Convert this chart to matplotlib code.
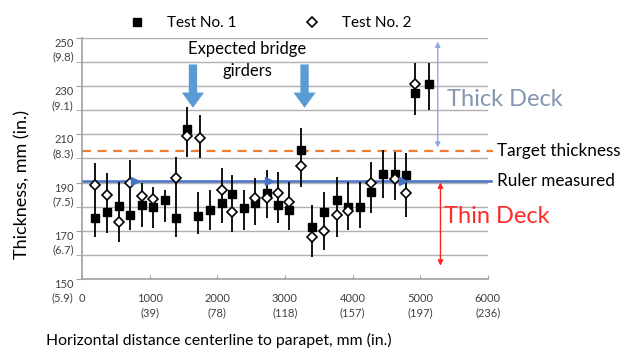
import numpy as np
import matplotlib
matplotlib.use('Agg')
import matplotlib.pyplot as plt
from matplotlib.transforms import ScaledTranslation

plt.rcParams['font.family'] = ['Lato', 'DejaVu Sans']

# measurement locations, mm from centerline
dist = [190, 370, 550, 710, 885, 1050, 1225, 1390, 1550, 1715, 1740,
        1890, 2070, 2215, 2390, 2555, 2730, 2900, 3060, 3240, 3400,
        3580, 3765, 3930, 4105, 4270, 4445, 4625, 4785, 4930, 5125]
test1 = [175.3, 177.8, 180.4, 176.5, 180.7, 179.8, 182.8, 175.3, 212.2, 176.0, np.nan,
         178.4, 181.7, 185.2, 179.5, 181.5, 185.7, 180.7, 178.6, 203.5, 171.6,
         177.8, 182.8, 179.9, 179.9, 186.1, 193.6, 193.6, 193.2, 227.2, 230.9]
test2 = [189.0, 184.9, 173.8, 190.0, 184.4, 183.2, np.nan, 191.9, 209.3, np.nan, 208.5,
         np.nan, 186.9, 177.8, np.nan, 183.6, 183.6, 185.7, 182.0, 196.9, 167.4,
         170.0, 176.5, 178.2, np.nan, 189.8, np.nan, 191.5, 185.7, 230.9, np.nan]
# whisker ends
whisk_lo = [167.4, 169.0, 165.4, 170.3, 171.6, 171.2, 173.7, 167.4, 200.6, 168.5, 200.2,
            170.3, 173.2, 169.5, 170.3, 172.4, 175.3, 173.2, 170.3, 188.2, 159.1,
            162.0, 167.4, 170.3, 171.2, 177.4, 183.6, 182.8, 175.7, 218.0, 220.0]
whisk_hi = [198.1, 194.0, 190.2, 199.4, 189.8, 188.2, 186.9, 200.6, 221.4, 186.0, 218.0,
            186.9, 196.1, 193.2, 186.9, 191.9, 195.2, 194.4, 190.2, 212.7, 180.7,
            186.1, 192.3, 190.2, 190.2, 198.5, 203.5, 202.7, 202.3, 239.6, 239.6]

target = 203.2
ruler = 190.5
ruler_marks = [780, 2770, 4750]
girders = [1640, 3290]

yticks = [150, 170, 190, 210, 230, 250]
ytick_labels = ['150\n(5.9)', '170\n(6.7)', '190\n(7.5)', '210\n(8.3)', '230\n(9.1)', '250\n(9.8)']
xticks = [0, 1000, 2000, 3000, 4000, 5000, 6000]
xtick_labels = ['0', '1000\n(39)', '2000\n(78)', '3000\n(118)', '4000\n(157)', '5000\n(197)', '6000\n(236)']

fig = plt.figure(figsize=(6.36, 3.58), dpi=100)
ax = fig.add_axes([0.129, 0.221, 0.638, 0.673])
ax.set_xlim(0, 6000)
ax.set_ylim(150, 250)

for g in range(150, 251, 10):
    ax.axhline(g, color='#b0b0b0', lw=1.0, zorder=0)

ax.plot([0, 6080], [target, target], color='#ED7D31', lw=1.6, ls=(0, (4, 3)), clip_on=False, zorder=1)
ax.plot([0, 6040], [ruler, ruler], color='#4472C4', lw=1.8, clip_on=False, zorder=1)
ax.plot(ruler_marks, [ruler] * len(ruler_marks), ls='none', marker='>', ms=6, color='#4472C4', zorder=4)

ax.vlines(dist, whisk_lo, whisk_hi, color='black', lw=1.3, zorder=2)
ax.plot(dist, test1, ls='none', marker='s', ms=5.5, color='black', zorder=3, label='Test No. 1')
ax.plot(dist, test2, ls='none', marker='D', ms=4.8, mfc='white', mec='black', mew=1.2, zorder=3, label='Test No. 2')

for gx in girders:
    ax.annotate('', xy=(gx, 221), xytext=(gx, 239),
                arrowprops=dict(arrowstyle='simple,head_width=1.6,head_length=1.1,tail_width=0.6',
                                color='#5B9BD5', lw=0, shrinkA=0, shrinkB=0))
ax.text(2440, 245.3, 'Expected bridge', ha='center', va='center', fontsize=12)
ax.text(2440, 236.3, 'girders', ha='center', va='center', fontsize=12)

ax.annotate('', xy=(5260, 204.5), xytext=(5260, 248.5),
            arrowprops=dict(arrowstyle='<|-|>,head_width=0.15,head_length=0.3', color='#8FAADC', lw=1.0,
                            shrinkA=0, shrinkB=0),
            annotation_clip=False)
ax.text(5390, 224.6, 'Thick Deck', ha='left', va='center', fontsize=17, color='#8497B0')
ax.annotate('', xy=(5300, 155.5), xytext=(5300, 190),
            arrowprops=dict(arrowstyle='<|-|>,head_width=0.15,head_length=0.3', color='#FF2020', lw=1.0,
                            shrinkA=0, shrinkB=0),
            annotation_clip=False)
ax.text(5350, 175.8, 'Thin Deck', ha='left', va='center', fontsize=17, color='#FF2A2A')

ax.text(6130, target, 'Target thickness', ha='left', va='center', fontsize=12.3)
ax.text(6130, ruler, 'Ruler measured', ha='left', va='center', fontsize=12.3)

ax.set_yticks(yticks)
ax.set_yticks(range(150, 251, 10), minor=True)
ax.set_yticklabels(ytick_labels, fontsize=8, color='#404040', linespacing=1.3, va='top')
for lab in ax.get_yticklabels():
    lab.set_transform(lab.get_transform() + ScaledTranslation(0, 8 / 72, fig.dpi_scale_trans))
ax.set_xticks(xticks)
ax.set_xticklabels(xtick_labels, fontsize=8, color='#404040', linespacing=1.4)
ax.get_xticklabels()[0].set_transform(ax.get_xticklabels()[0].get_transform()
                                      + ScaledTranslation(0.03, 8 / 72, fig.dpi_scale_trans))
ax.tick_params(axis='y', which='both', length=4, color='#a0a0a0', pad=2)
ax.tick_params(axis='x', length=3, direction='in', color='#a0a0a0', pad=10)

for side in ['top', 'right']:
    ax.spines[side].set_visible(False)
for side in ['left', 'bottom']:
    ax.spines[side].set_color('#a0a0a0')
    ax.spines[side].set_linewidth(1.2)

ax.set_ylabel('Thickness, mm (in.)', fontsize=13)
ax.yaxis.set_label_coords(-0.128, 0.39)
ax.set_xlabel('Horizontal distance centerline to parapet, mm (in.)', fontsize=11.3)
ax.xaxis.set_label_coords(0.337, -0.225)

ax.legend(loc='lower center', bbox_to_anchor=(0.455, 1.0), ncol=2, frameon=False,
          fontsize=11, handletextpad=1.0, columnspacing=3.9, borderaxespad=0.1)

fig.savefig('out.png', dpi=100)
